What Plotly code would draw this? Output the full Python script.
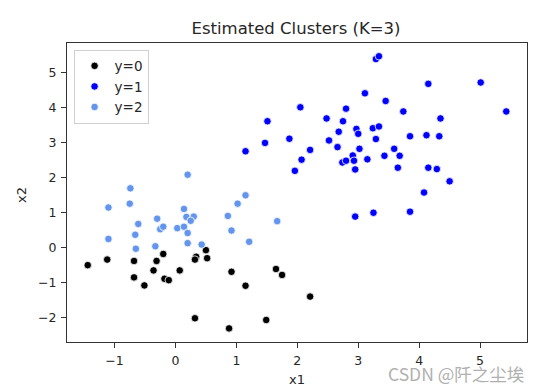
import plotly.graph_objects as go

# Cluster y=0 (black)
x_c0 = [-1.44, -1.12, -0.68, -0.31, -0.20, 0.34, 0.32, 0.50, 0.52, -0.36, 0.07, -0.68,
        -0.18, -0.11, -0.51, 0.92, 0.32, 0.88, 1.65, 1.75, 1.15, 2.21, 1.49]
y_c0 = [-0.51, -0.35, -0.39, -0.39, -0.19, -0.27, -0.35, -0.08, -0.31, -0.66, -0.66, -0.86,
        -0.90, -0.94, -1.09, -0.70, -2.03, -2.32, -0.62, -0.79, -1.10, -1.41, -2.08]

# Cluster y=1 (blue)
x_c1 = [3.29, 3.34, 4.15, 5.01, 3.11, 3.45, 2.05, 2.80, 3.74, 5.43, 1.51, 2.48, 2.75, 4.35,
        2.68, 2.97, 3.00, 3.24, 3.34, 1.87, 1.47, 2.52, 3.29, 3.85, 4.12, 4.33, 1.15, 2.21,
        2.66, 3.02, 3.59, 2.07, 2.91, 3.43, 3.68, 2.74, 2.80, 2.93, 3.15, 1.96, 2.95, 3.65,
        4.15, 4.29, 4.50, 4.08, 2.95, 3.25, 3.85]
y_c1 = [5.39, 5.47, 4.68, 4.72, 4.41, 4.19, 4.01, 3.97, 3.89, 3.89, 3.61, 3.69, 3.61, 3.69,
        3.31, 3.39, 3.25, 3.41, 3.46, 3.11, 2.99, 3.06, 3.10, 3.18, 3.21, 3.18, 2.75, 2.79,
        2.87, 2.82, 2.82, 2.51, 2.63, 2.62, 2.62, 2.43, 2.48, 2.48, 2.52, 2.19, 2.23, 2.28,
        2.28, 2.24, 1.89, 1.57, 0.88, 0.99, 1.02]

# Cluster y=2 (cornflower blue)
x_c2 = [1.15, 1.02, 0.20, -0.74, -0.75, -1.10, 0.14, 0.18, 0.30, 0.25, -0.30, -0.61, 0.86,
        -0.25, -0.20, 0.03, 0.14, -0.66, 0.20, 0.92, -1.10, 0.20, 0.43, -0.33, -0.65, 1.67, 1.21]
y_c2 = [1.49, 1.25, 2.08, 1.69, 1.25, 1.14, 1.10, 0.87, 0.88, 0.76, 0.82, 0.67, 0.90,
        0.52, 0.59, 0.55, 0.59, 0.36, 0.41, 0.48, 0.24, 0.12, 0.08, 0.03, -0.04, 0.75, 0.16]

labels = ["y=0", "y=1", "y=2"]
colors = ["black", "blue", "cornflowerblue"]
xs = [x_c0, x_c1, x_c2]
ys = [y_c0, y_c1, y_c2]

fig = go.Figure()
for lab, col, xv, yv in zip(labels, colors, xs, ys):
    fig.add_trace(go.Scatter(
        x=xv, y=yv, mode="markers", name=lab,
        marker=dict(color=col, size=7.5, line=dict(color="white", width=0.8)),
    ))

W, H = 545, 389
L, R, T, B = 66.7, 527.3, 42.7, 342.3
font_family = "DejaVu Sans"
txt = "#262626"
axis_common = dict(
    showline=True, mirror=True, linecolor="#333333", linewidth=1,
    ticks="outside", ticklen=5, tickcolor="#333333", tickwidth=1,
    ticklabelstandoff=2, automargin=False,
    showgrid=False, zeroline=False,
    tickfont=dict(family=font_family, size=12.5, color=txt),
)

fig.update_layout(
    width=W, height=H, autosize=False,
    margin=dict(l=L, r=W - R, t=T, b=H - B, pad=0, autoexpand=False),
    plot_bgcolor="white", paper_bgcolor="white",
    font=dict(family=font_family, size=12.5, color=txt),
    title=dict(text="Estimated Clusters (K=3)", x=296 / W, xanchor="center",
               y=1 - 28.3 / H, yanchor="middle", xref="container", yref="container",
               font=dict(family=font_family, size=16.5, color=txt)),
    xaxis=dict(range=[-1.78, 5.77], tickvals=[-1, 0, 1, 2, 3, 4, 5], **axis_common),
    yaxis=dict(range=[-2.71, 5.85], tickvals=[-2, -1, 0, 1, 2, 3, 4, 5], **axis_common),
    legend=dict(x=0.0143, y=0.978, xanchor="left", yanchor="top",
                bordercolor="#d0d0d0", borderwidth=1, bgcolor="rgba(255,255,255,0.8)",
                font=dict(family=font_family, size=13.5, color=txt),
                itemwidth=30, tracegroupgap=0),
    showlegend=True,
)

# Axis titles placed as annotations in pixel-consistent paper coordinates
fig.add_annotation(
    text="x1", xref="paper", yref="paper",
    x=(296.5 - L) / (R - L), y=-(380 - B) / (B - T),
    xanchor="center", yanchor="middle", showarrow=False,
    font=dict(family=font_family, size=13, color=txt),
)
fig.add_annotation(
    text="x2", xref="paper", yref="paper",
    x=-(L - 21.7) / (R - L), y=(B - 195) / (B - T),
    xanchor="center", yanchor="middle", showarrow=False, textangle=-90,
    font=dict(family=font_family, size=13, color=txt),
)

fig.add_annotation(
    text="CSDN @阡之尘埃", xref="paper", yref="paper",
    x=(526.7 - L) / (R - L), y=-(374 - B) / (B - T),
    xanchor="right", yanchor="middle", showarrow=False,
    font=dict(family="Noto Sans CJK SC", size=17.5, color="#b0b0b0"),
)

fig.write_html("out.html", config={"displayModeBar": False},
               post_script="document.body.style.margin='0';")
